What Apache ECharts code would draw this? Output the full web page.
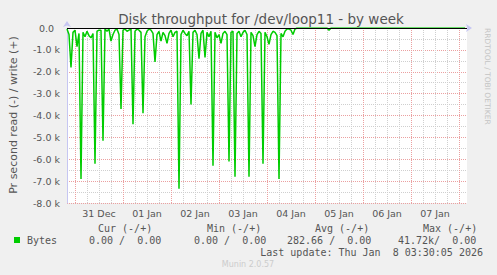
<!DOCTYPE html>
<html><head><meta charset="utf-8">
<script src="https://cdn.jsdelivr.net/npm/echarts@6/dist/echarts.min.js"></script>
<style>html,body{margin:0;padding:0;background:#f0f0f0}#c{width:497px;height:275px}</style>
</head><body><div id="c"></div>
<script>
// hourly samples starting Dec 30 20:00 (hour index 0), bytes/s read (negative)
const readValues = [
 -50,-300,-1800,-200,-100,-850,-250,-6900,-200,-400,
 -150,-350,-450,-250,-6200,-150,-100,-100,-5150,-50,
 -150,-50,-600,-300,-100,-50,-300,-3700,-100,-50,
 -150,-100,-50,-4400,-150,-50,-100,-200,-3900,-400,
 -150,-50,-100,-250,-1550,-300,-150,-600,-200,-350,
 -700,-250,-100,-400,-200,-150,-7350,-300,-100,-250,
 -350,-150,-3500,-200,-100,-300,-1400,-250,-100,-1350,
 -200,-400,-150,-6300,-200,-450,-300,-700,-250,-150,
 -300,-6100,-200,-150,-6800,-250,-150,-400,-200,-100,
 -300,-6800,-200,-350,-850,-300,-150,-250,-6200,-200,
 -400,-750,-300,-150,-200,-350,-6900,-250,-400,-150,
 -50,-50,-100,-300,-50,0,0,0,0,0,
 0,0,0,0,0,0,0,0,0,0,
 0,-100,0,0,0,0,0,0,0,0,
 0,0,0,0,0,0,0,0,0,0,
 0,0,0,0,0,0,0,0,0,0,
 0,0,0,0,0,0,0,0,0,0,
 0,0,0,0,0,0,0,0,0,0,
 0,0,0,0,0,0,0,0,0,0,
 0,0,0,0,0,0,0,0,0,0
];
const xTickLabels = ['31 Dec','01 Jan','02 Jan','03 Jan','04 Jan','05 Jan','06 Jan','07 Jan'];
const yTickLabels = ['0.0','-1.0 k','-2.0 k','-3.0 k','-4.0 k','-5.0 k','-6.0 k','-7.0 k','-8.0 k'];
const legendHeaders = ['Cur (-/+)','Min (-/+)','Avg (-/+)','Max (-/+)'];
const legendValues = ['0.00 /  0.00','0.00 /  0.00','282.66 /  0.00','41.72k/  0.00'];
const seriesName = 'Bytes';
const titleText = 'Disk throughput for /dev/loop11 - by week';
const yName = 'Pr second read (-) / write (+)';
const lastUpdate = 'Last update: Thu Jan  8 03:30:05 2026';
const footer = 'Munin 2.0.57';
const sideText = 'RRDTOOL / TOBI OETIKER';

const RED = '#eba0a0', GRAY = '#cfcfcf', NONE = 'rgba(0,0,0,0)';
const TXT = '#555';
const MONO = '"DejaVu Sans Mono", monospace';
const SANS = '"DejaVu Sans", sans-serif';

const chart = echarts.init(document.getElementById('c'), null, {renderer: 'svg'});
const legendX = [98, 207, 315, 423];
const valueX = [89, 194, 287, 398];
const graphic = [
  {type:'text', x:261, y:19, style:{text:titleText, font:'13.5px '+SANS, fill:TXT, textAlign:'center', textVerticalAlign:'middle'}},
  {type:'text', x:13, y:115, rotation:Math.PI/2, style:{text:yName, font:'11px '+SANS, fill:TXT, textAlign:'center', textVerticalAlign:'middle'}},
  {type:'text', x:487, y:28, rotation:-Math.PI/2, style:{text:sideText, font:'7.5px '+SANS, fill:'#c4c4c4', textAlign:'left', textVerticalAlign:'middle'}},
  {type:'rect', shape:{x:14, y:237, width:6, height:6}, style:{fill:'#00cc00'}},
  {type:'text', x:27, y:240, style:{text:seriesName, font:'10px '+MONO, fill:TXT, textVerticalAlign:'middle'}},
  {type:'text', x:483, y:252, style:{text:lastUpdate, font:'10px '+MONO, fill:TXT, textAlign:'right', textVerticalAlign:'middle'}},
  {type:'text', x:248, y:264, style:{text:footer, font:'8px '+SANS, fill:'#cccccc', textAlign:'center', textVerticalAlign:'middle'}}
];
legendHeaders.forEach((t,i)=>graphic.push({type:'text', x:legendX[i], y:228, style:{text:t, font:'10px '+MONO, fill:TXT, textVerticalAlign:'middle'}}));
legendValues.forEach((t,i)=>graphic.push({type:'text', x:valueX[i], y:240, style:{text:t, font:'10px '+MONO, fill:TXT, textVerticalAlign:'middle'}}));

chart.setOption({
  animation:false,
  backgroundColor:'#f0f0f0',
  grid:{left:67, top:28, width:400, height:175, show:true, backgroundColor:'#ffffff', borderWidth:0},
  xAxis:{type:'value', min:0, max:200, interval:2,
    axisLine:{show:true, lineStyle:{color:'#c6c6f2', width:1}, symbol:['none','arrow'], symbolSize:[6,6], symbolOffset:[0,5]},
    axisTick:{show:false},
    splitLine:{show:true, lineStyle:{type:'dotted', width:1, color:[NONE,NONE,RED,NONE,NONE,GRAY,NONE,NONE,GRAY,NONE,NONE,GRAY]}},
    axisLabel:{margin:5, color:TXT, fontFamily:'DejaVu Sans', fontSize:9.5, showMinLabel:true, showMaxLabel:true,
      formatter:v=>{ if ((v-16)%24===0) { const k=(v-16)/24; return xTickLabels[k]||''; } return ''; }}
  },
  yAxis:{type:'value', min:-8000, max:0, interval:500,
    axisLine:{show:true, onZero:false, lineStyle:{color:'#c6c6f2', width:1}, symbol:['none','arrow'], symbolSize:[6,6], symbolOffset:[0,7]},
    axisTick:{show:false},
    splitLine:{show:true, lineStyle:{type:'dotted', width:1, color:[RED,GRAY]}},
    axisLabel:{margin:7, color:TXT, fontFamily:'DejaVu Sans', fontSize:9.5,
      rich:{z:{padding:[0,6,0,0], color:TXT, fontFamily:'DejaVu Sans', fontSize:9.5}},
      formatter:v=>{ const i=-v/1000; if (Number.isInteger(i)) return i===0 ? '{z|'+yTickLabels[0]+'}' : yTickLabels[i]; return ''; }}
  },
  series:[{
    name:seriesName, type:'line', showSymbol:false, symbol:'none',
    data: readValues.map((v,i)=>[i,v]),
    lineStyle:{color:'#00cc00', width:1.5},
    markLine:{silent:true, symbol:['none','none'], label:{show:false}, z:10,
      lineStyle:{color:'#000', type:'solid', width:1},
      data:[{yAxis:0}]}
  }],
  graphic: graphic
});
</script></body></html>
